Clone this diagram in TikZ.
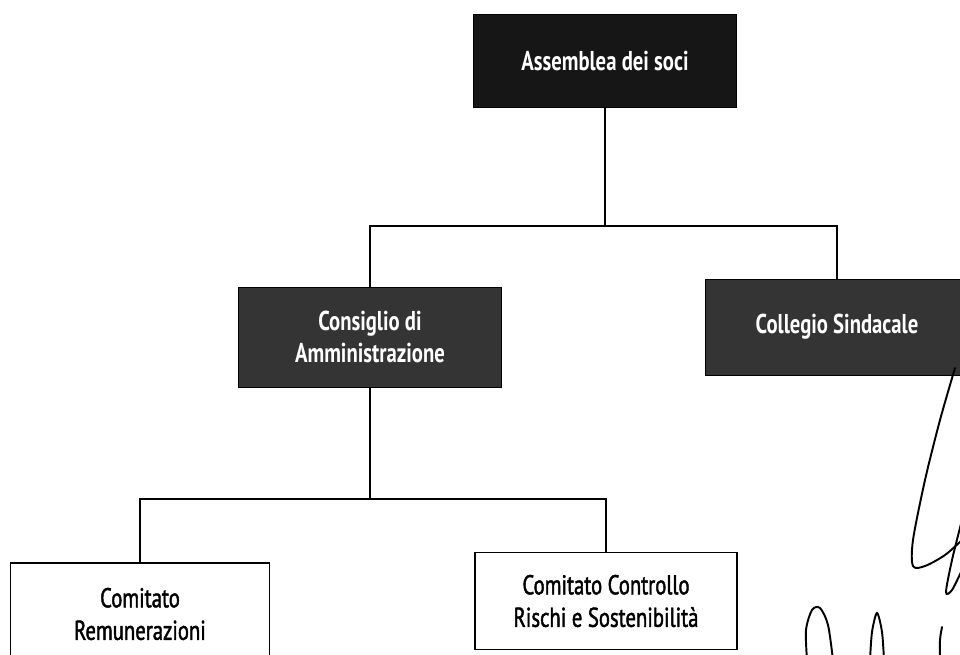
\documentclass[tikz,border=0pt]{standalone}
\usepackage{fontspec}
\setmainfont{PT Sans}[FakeStretch=0.76]
\newfontfamily\halbfett{PT Sans}[FakeStretch=0.76, FakeBold=1.6]
\usepackage{xcolor}
\definecolor{dunkel}{RGB}{22,22,22}
\definecolor{dunkelgrau}{RGB}{52,52,52}
\usetikzlibrary{positioning,calc}

\begin{document}
\begin{tikzpicture}[x=0.02cm,y=-0.02cm,
        organ/.style={draw=black, fill=dunkelgrau, text=white, align=center, inner sep=2pt, font=\fontsize{15.5}{18}\selectfont\bfseries},
        komitee/.style={draw=black, line width=1pt, fill=white, text=black, align=center, inner sep=2pt, font=\fontsize{15.5}{18.5}\selectfont\halbfett},
        verbindung/.style={draw=black, line width=1.3pt},
        unterschrift/.style={draw=black, line width=1.1pt, line cap=round}]
        \useasboundingbox (0,0) rectangle (960,654);                                                            % Rahmen
        \node[organ, fill=dunkel, minimum width=5.26cm, minimum height=1.86cm] (ads) at (605,61) {Assemblea dei soci}; % Assemblea
        \node[organ, minimum width=5.26cm, minimum height=2.0cm] (cda) at (370,337) {Consiglio di\\Amministrazione}; % Consiglio
        \node[organ, minimum width=5.28cm, minimum height=1.92cm] (cs) at (837,327) {Collegio Sindacale};      % Collegio
        \node[komitee, minimum width=5.18cm, minimum height=2.04cm] (crm) at (140,614) {Comitato\\Remunerazioni}; % Remunerazioni
        \node[komitee, minimum width=5.24cm, minimum height=1.94cm] (ccr) at (606,601) {Comitato Controllo\\Rischi e Sostenibilità}; % Controllo
        \coordinate (bus1) at (603,226);                                                                        % obere Verteilung
        \coordinate (bus2) at (370,499);                                                                        % untere Verteilung
        \draw[verbindung] (ads.south) -- (ads.south |- bus1);                                                   % Assemblea nach unten
        \draw[verbindung] (cda.north) |- (bus1) -| (cs.north);                                                  % obere Linie
        \draw[verbindung] (cda.south) -- (bus2);                                                                % Consiglio nach unten
        \draw[verbindung] (crm.north) |- (bus2) -| (ccr.north);                                                 % untere Linie
        \draw[unterschrift] plot[smooth] coordinates {(955,368) (940,420) (925,480) (913,540) (913,566) (925,566) (945,555) (962,540)}; % Unterschrift
        \draw[unterschrift] plot[smooth] coordinates {(962,520) (952,560) (946,592) (952,590) (962,570)};
        \draw[unterschrift] plot[smooth] coordinates {(807,660) (806,630) (812,610) (820,608) (828,625) (833,660)};
        \draw[unterschrift] plot[smooth] coordinates {(870,660) (872,632) (877,613) (882,632) (884,660)};
        \draw[unterschrift] plot[smooth] coordinates {(940,660) (940,640) (942,627)};
    \end{tikzpicture}
\end{document}
